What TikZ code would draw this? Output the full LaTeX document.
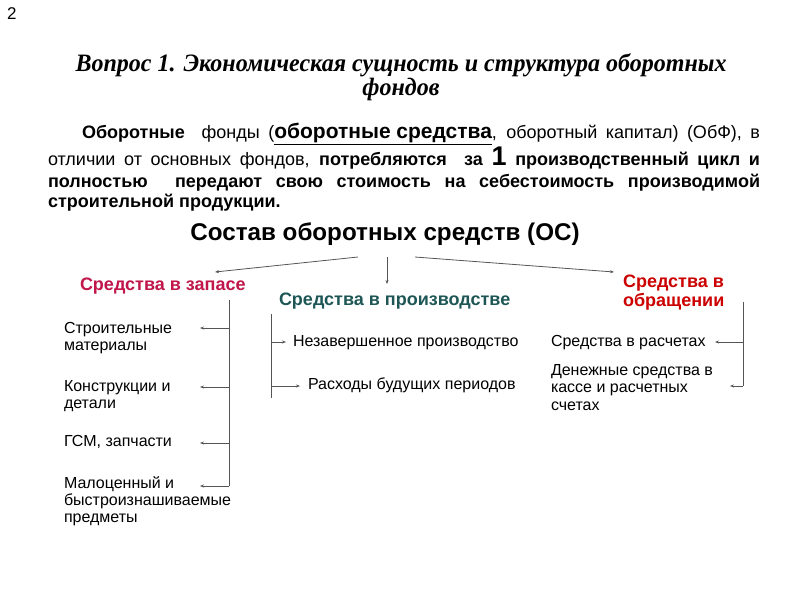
\documentclass[tikz,border=0pt]{standalone}
\usepackage{fontspec}
\setmainfont{Liberation Serif}
\newfontfamily\ars{Liberation Sans}
\usetikzlibrary{arrows.meta}
\definecolor{crim}{HTML}{C0164A}
\definecolor{tealdk}{HTML}{1E5656}
\definecolor{redd}{HTML}{CC0000}
\definecolor{lgray}{HTML}{555555}
\newcommand{\mlines}[1]{\begin{tabular}[t]{@{}l@{}}#1\end{tabular}}
\begin{document}
\begin{tikzpicture}[x=1pt,y=-1pt,
  every node/.style={inner sep=0pt, outer sep=0pt},
  item/.style={anchor=base west, font=\ars\fontsize{16}{17}\selectfont},
  para/.style={anchor=base west, font=\ars\fontsize{18}{20}\selectfont},
  grp/.style={anchor=base west, font=\ars\bfseries\fontsize{18}{19.5}\selectfont},
  conn/.style={draw=lgray, line width=0.8pt, -{Stealth[length=4pt,width=3pt]}},
  spine/.style={draw=lgray, line width=0.9pt}]
\useasboundingbox[fill=white] (0,0) rectangle (800,600);

\node[anchor=base west, font=\ars\fontsize{17}{17}\selectfont] (num) at (7,19) {2};

\node[anchor=base, font=\bfseries\itshape\fontsize{25}{25}\selectfont] (t1) at (401,71)
  {\scalebox{0.96}[1]{Вопрос 1. Экономическая сущность и структура оборотных}};
\node[anchor=base, font=\bfseries\itshape\fontsize{25}{25}\selectfont] (t2) at (401,95) {\scalebox{0.96}[1]{фондов}};

\node[para] (p1) at (82,138) {\makebox[678pt][s]{\textbf{Оборотные}\ \ фонды (\textbf{\fontsize{21}{21}\selectfont\underline{оборотные средства}}, оборотный капитал) (ОбФ), в}};
\node[para] (p2) at (48,165) {\makebox[712pt][s]{отличии от основных фондов, \textbf{потребляются\ \ за {\fontsize{27}{27}\selectfont 1} производственный цикл и}}};
\node[para] (p3) at (48,187) {\makebox[712pt][s]{\textbf{полностью\ \ передают свою стоимость на себестоимость производимой}}};
\node[para] (p4) at (48,207) {\textbf{строительной продукции.}};

\node[anchor=base, font=\ars\bfseries\fontsize{24.2}{24}\selectfont] (head) at (385,240) {Состав оборотных средств (ОС)};

\node[grp, text=crim] (g1) at (80,290) {Средства в запасе};
\node[grp, text=tealdk] (g2) at (279,305) {Средства в производстве};
\node[grp, text=redd] (g3) at (623,287) {\mlines{Средства в\\обращении}};

\coordinate (h1) at (358,257); \coordinate (e1) at (215,272);
\coordinate (h2) at (387,257); \coordinate (e2) at (387,284);
\coordinate (h3) at (415,257); \coordinate (e3) at (614,272);
\draw[conn] (h1) -- (e1);
\draw[conn] (h2) -- (e2);
\draw[conn] (h3) -- (e3);

% left group
\node[item] (a1) at (64,333) {\mlines{Строительные\\материалы}};
\node[item] (a2) at (64,391) {\mlines{Конструкции и\\детали}};
\node[item] (a3) at (64,446) {ГСМ, запчасти};
\node[item] (a4) at (64,488) {\mlines{Малоценный и\\быстроизнашиваемые\\предметы}};
\coordinate (ls) at (229,300); \coordinate (le) at (229,486);
\draw[spine] (ls) -- (le);
\foreach \y/\n in {328/1,387/2,443/3,486/4}{
  \coordinate (lb\n) at (229,\y); \coordinate (lt\n) at (200,\y);
  \draw[conn] (lb\n) -- (lt\n);
}

% middle group
\node[item] (b1) at (293,346) {Незавершенное производство};
\node[item] (b2) at (308,389) {Расходы будущих периодов};
\coordinate (ms) at (271,314); \coordinate (me) at (271,398);
\draw[spine] (ms) -- (me);
\coordinate (mb1) at (271,342); \coordinate (mt1) at (286,342);
\coordinate (mb2) at (271,386); \coordinate (mt2) at (300,386);
\draw[conn] (mb1) -- (mt1);
\draw[conn] (mb2) -- (mt2);

% right group
\node[item] (c1) at (551,346) {Средства в расчетах};
\node[item, font=\ars\fontsize{16}{17.5}\selectfont] (c2) at (551,375) {\mlines{Денежные средства в\\кассе и расчетных\\счетах}};
\coordinate (rs) at (743,302); \coordinate (re) at (743,386);
\draw[spine] (rs) -- (re);
\coordinate (rb1) at (743,342); \coordinate (rt1) at (715,342);
\coordinate (rb2) at (743,386); \coordinate (rt2) at (730,386);
\draw[conn] (rb1) -- (rt1);
\draw[conn] (rb2) -- (rt2);
\end{tikzpicture}
\end{document}
